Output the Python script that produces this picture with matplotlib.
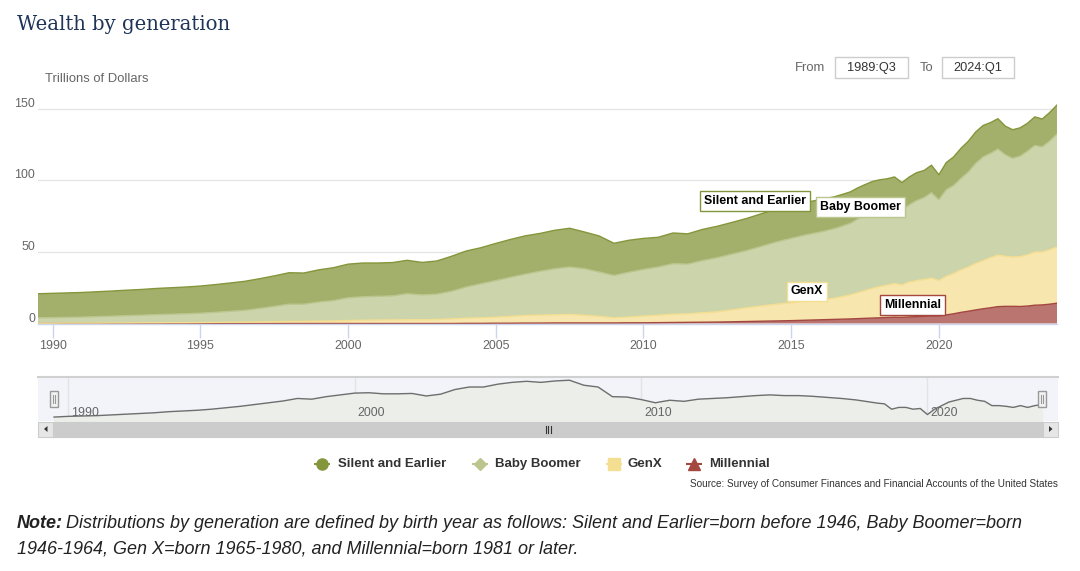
import numpy as np
import matplotlib
matplotlib.use("Agg")
import matplotlib.pyplot as plt
from matplotlib.patches import Rectangle, Polygon
from matplotlib import transforms

# ---------------- data (trillions of dollars) ----------------
quarters = [
    "1989Q3", "1990Q1", "1990Q3", "1991Q1", "1991Q3", "1992Q1", "1992Q3", "1993Q1", "1993Q3",
    "1994Q1", "1994Q3", "1995Q1", "1995Q3", "1996Q1", "1996Q3", "1997Q1", "1997Q3", "1998Q1",
    "1998Q3", "1999Q1", "1999Q3", "2000Q1", "2000Q3", "2001Q1", "2001Q3", "2002Q1", "2002Q3",
    "2003Q1", "2003Q3", "2004Q1", "2004Q3", "2005Q1", "2005Q3", "2006Q1", "2006Q3", "2007Q1",
    "2007Q3", "2008Q1", "2008Q3", "2009Q1", "2009Q3", "2010Q1", "2010Q3", "2011Q1", "2011Q3",
    "2012Q1", "2012Q3", "2013Q1", "2013Q3", "2014Q1", "2014Q3", "2015Q1", "2015Q3", "2016Q1",
    "2016Q3",
    "2017Q1", "2017Q2", "2017Q3", "2017Q4", "2018Q1", "2018Q2", "2018Q3", "2018Q4",
    "2019Q1", "2019Q2", "2019Q3", "2019Q4", "2020Q1", "2020Q2", "2020Q3", "2020Q4",
    "2021Q1", "2021Q2", "2021Q3", "2021Q4", "2022Q1", "2022Q2", "2022Q3", "2022Q4",
    "2023Q1", "2023Q2", "2023Q3", "2023Q4", "2024Q1",
]

silent = [
    16.8, 17.0, 17.1, 17.2, 17.4, 17.6, 17.8, 18.0, 18.3,
    18.5, 18.7, 19.0, 19.4, 19.8, 20.3, 20.8, 21.3, 22.0,
    21.8, 22.5, 23.0, 23.5, 23.6, 23.3, 23.3, 23.4, 22.7,
    23.2, 24.5, 25.2, 25.2, 26.0, 26.5, 26.8, 26.5, 26.9,
    27.1, 25.7, 25.2, 22.5, 22.4, 21.7, 20.8, 21.5, 21.2,
    21.8, 22.0, 22.2, 22.5, 22.8, 23.0, 22.8, 22.8, 22.6,
    22.3,
    22.0, 21.8, 21.6, 21.3, 21.0, 20.7, 20.5, 19.0,
    19.5, 19.5, 19.0, 19.2, 17.5, 19.0, 20.0, 21.0,
    21.5, 22.0, 22.0, 21.5, 21.2, 20.0, 20.0, 19.8,
    19.5, 20.0, 19.5, 20.0, 20.3,
]

boomer = [
    3.8, 3.9, 4.0, 4.2, 4.5, 4.7, 5.1, 5.3, 5.7,
    5.9, 6.2, 6.5, 7.0, 7.6, 8.2, 9.4, 10.7, 12.0,
    12.0, 13.3, 14.2, 15.9, 16.4, 16.6, 16.8, 18.2, 17.4,
    17.7, 19.3, 21.8, 23.8, 25.6, 27.3, 28.9, 30.6, 32.2,
    33.2, 32.5, 31.0, 29.6, 31.3, 32.6, 33.7, 35.3, 34.7,
    36.5, 37.8, 39.0, 40.0, 41.7, 43.5, 45.0, 46.5, 47.7,
    48.7,
    50.0, 51.5, 52.5, 53.5, 53.7, 53.7, 54.0, 52.5,
    54.0, 56.0, 57.2, 59.7, 56.5, 60.5, 61.5, 64.0,
    66.5, 70.0, 72.5, 73.0, 74.2, 71.0, 69.0, 70.2,
    72.5, 74.5, 73.5, 76.0, 79.0,
]

genx = [
    0.2, 0.2, 0.3, 0.3, 0.3, 0.4, 0.4, 0.5, 0.5,
    0.6, 0.6, 0.7, 0.8, 0.9, 1.0, 1.1, 1.3, 1.5,
    1.5, 1.7, 1.8, 2.1, 2.3, 2.4, 2.5, 2.6, 2.6,
    2.8, 3.2, 3.6, 3.9, 4.2, 4.8, 5.3, 5.6, 5.7,
    5.9, 5.4, 4.6, 3.6, 4.0, 4.7, 5.2, 5.8, 6.0,
    6.6, 7.2, 8.3, 9.6, 10.7, 11.7, 12.5, 13.2, 13.7,
    14.9,
    16.8, 18.1, 19.4, 20.7, 21.8, 22.6, 23.6, 22.7,
    24.4, 25.2, 25.8, 26.5, 24.7, 27.0, 28.2, 29.7,
    30.9, 32.5, 33.7, 35.0, 36.0, 35.0, 34.5, 34.9,
    35.8, 37.2, 37.0, 38.0, 39.3,
]

millennial = [
    0.0, 0.0, 0.0, 0.0, 0.0, 0.0, 0.0, 0.0, 0.0,
    0.0, 0.0, 0.0, 0.0, 0.0, 0.0, 0.0, 0.0, 0.0,
    0.0, 0.0, 0.0, 0.0, 0.0, 0.0, 0.0, 0.0, 0.0,
    0.0, 0.0, 0.1, 0.1, 0.2, 0.2, 0.3, 0.3, 0.4,
    0.4, 0.4, 0.4, 0.4, 0.5, 0.5, 0.6, 0.7, 0.8,
    0.9, 1.0, 1.2, 1.4, 1.6, 1.8, 2.0, 2.3, 2.6,
    2.9,
    3.2, 3.4, 3.6, 3.8, 4.0, 4.2, 4.4, 4.3,
    4.6, 4.8, 5.0, 5.3, 5.3, 6.0, 6.8, 7.8,
    8.6, 9.5, 10.3, 11.0, 11.8, 12.0, 12.0, 11.9,
    12.2, 12.8, 13.0, 13.5, 14.2,
]

series_names = ["Silent and Earlier", "Baby Boomer", "GenX", "Millennial"]
x_ticks = [1990, 1995, 2000, 2005, 2010, 2015, 2020]
y_ticks = [0, 50, 100, 150]
nav_ticks = [1990, 2000, 2010, 2020]
range_from, range_to = "1989:Q3", "2024:Q1"

for arr in (silent, boomer, genx, millennial):
    assert len(arr) == len(quarters)

x = np.array([int(q[:4]) + (int(q[-1]) - 1) / 4 for q in quarters])

# ---------------- style ----------------
FONT = "Liberation Sans"
plt.rcParams["font.family"] = [FONT, "DejaVu Sans"]
c_line = {"Silent and Earlier": "#84963b", "Baby Boomer": "#bac68e",
          "GenX": "#f4de92", "Millennial": "#a34740"}
c_fill = {"Silent and Earlier": "#a3b06c", "Baby Boomer": "#cbd4aa",
          "GenX": "#f7e6ad", "Millennial": "#ba7570"}

W, H = 1080, 571
fig = plt.figure(figsize=(W / 100, H / 100), dpi=100)
fig.patch.set_facecolor("white")


def frac(l, t, r, b):
    return [l / W, 1 - b / H, (r - l) / W, (b - t) / H]


# ---------------- main chart ----------------
ax = fig.add_axes(frac(38, 94.7, 1057, 323.5))
ax.set_xlim(x[0], x[-1])
ax.set_ylim(0, 160)
for v in y_ticks[1:]:
    ax.axhline(v, color="#e6e6e6", lw=1, zorder=0)

vals = [np.array(millennial), np.array(genx), np.array(boomer), np.array(silent)]
names_bottom_up = ["Millennial", "GenX", "Baby Boomer", "Silent and Earlier"]
ax.stackplot(x, *vals, colors=[c_fill[n] for n in names_bottom_up], lw=0, zorder=1)
cum = np.cumsum(np.vstack(vals), axis=0)
for i, n in enumerate(names_bottom_up):
    ax.plot(x, cum[i], color=c_line[n], lw=1, zorder=2)

for s in ["top", "left", "right"]:
    ax.spines[s].set_visible(False)
ax.spines["bottom"].set_color("#ccd6eb")
ax.spines["bottom"].set_linewidth(1)
ax.set_xticks(x_ticks)
ax.set_xticklabels([str(t) for t in x_ticks])
ax.tick_params(axis="x", direction="out", length=10, width=1, color="#ccd6eb",
               labelcolor="#666666", labelsize=8.9, pad=2)
ax.set_yticks([])
ytrans = transforms.offset_copy(ax.get_yaxis_transform(), fig=fig, x=-3, y=5, units="dots")
for v in y_ticks:
    ax.text(0, v, str(v), transform=ytrans, ha="right", va="center",
            fontsize=8.9, color="#666666")

# series labels
label_pos = {"Silent and Earlier": (2013.76, 85.5), "Baby Boomer": (2017.36, 81.3),
             "GenX": (2015.53, 22.4), "Millennial": (2019.12, 13.0)}
for n in series_names:
    lx, ly = label_pos[n]
    ax.text(lx, ly, n, ha="center", va="center", fontsize=8.9, fontweight="bold",
            color="#000000", zorder=5,
            bbox=dict(boxstyle="square,pad=0.32", fc="white", ec=c_line[n], lw=1))

# ---------------- navigator ----------------
nav = fig.add_axes(frac(38, 377, 1058, 421))
nav.set_facecolor("#f2f4f9")
nav.set_xlim(1988.94, 2024.56)
nav.set_ylim(15.7, 28.0)
navlab = transforms.offset_copy(nav.get_xaxis_transform(), fig=fig, x=3, y=0, units="dots")
for t in nav_ticks:
    nav.axvline(t, color="#e3e3e3", lw=1, zorder=0)
    nav.text(t, 0.18, str(t), transform=navlab, fontsize=8.9, color="#666666",
             ha="left", va="center", zorder=3)
nav.fill_between(x, silent, 15.7, color="#eceeea", zorder=1)
nav.plot(x, silent, color="#6e6e6e", lw=1, zorder=2)
nav.set_xticks([])
nav.set_yticks([])
for s in ["left", "right", "bottom"]:
    nav.spines[s].set_visible(False)
nav.spines["top"].set_color("#d0d0d0")
nav.spines["top"].set_linewidth(1.5)

# ---------------- overlay (pixel coordinates) ----------------
ov = fig.add_axes([0, 0, 1, 1])
ov.set_xlim(0, W)
ov.set_ylim(H, 0)
ov.set_axis_off()

# navigator handles at the ends of the data range
for xv in (x[0], x[-1]):
    hx = nav.transData.transform((xv, 20))[0] * W / fig.bbox.width
    ov.add_patch(Rectangle((hx - 4, 391), 8, 16, fc="#f2f2f2", ec="#999999", lw=1, zorder=5))
    ov.plot([hx - 1.2, hx - 1.2], [395, 403], color="#999999", lw=0.8, zorder=6)
    ov.plot([hx + 1.2, hx + 1.2], [395, 403], color="#999999", lw=0.8, zorder=6)

# scrollbar
ov.add_patch(Rectangle((38, 421.5), 1020, 15.5, fc="#f2f2f2", ec="none"))
ov.add_patch(Rectangle((53, 421.5), 990, 15.5, fc="#cccccc", ec="#cccccc", lw=0.8))
for bx in (38, 1043):
    ov.add_patch(Rectangle((bx, 421.5), 15, 15.5, fc="#e6e6e6", ec="#cccccc", lw=0.8))
ov.add_patch(Polygon([(47.5, 426), (47.5, 432), (44, 429)], closed=True, fc="#333333", ec="none"))
ov.add_patch(Polygon([(1049, 426), (1049, 432), (1052.5, 429)], closed=True, fc="#333333", ec="none"))
for gx in (545.5, 548, 550.5):
    ov.plot([gx, gx], [425.5, 432.5], color="#333333", lw=0.8)

# title & axis title
ov.text(17, 25, "Wealth by generation", fontsize=14.1, family="DejaVu Serif",
        color="#1f3458", va="center", ha="left")
ov.text(45, 79, "Trillions of Dollars", fontsize=9.4, color="#666666", va="center", ha="left")

# range selector
ov.text(795, 68, "From", fontsize=9.4, color="#666666", va="center", ha="left")
ov.add_patch(Rectangle((835, 57), 73, 21, fc="white", ec="#cccccc", lw=1))
ov.text(871.5, 68, range_from, fontsize=9.2, color="#333333", va="center", ha="center")
ov.text(920, 68, "To", fontsize=9.4, color="#666666", va="center", ha="left")
ov.add_patch(Rectangle((942, 57), 72, 21, fc="white", ec="#cccccc", lw=1))
ov.text(978, 68, range_to, fontsize=9.2, color="#333333", va="center", ha="center")

# legend
leg_marker = {"Silent and Earlier": ("o", 322, 8), "Baby Boomer": ("D", 480, 6.5),
              "GenX": ("s", 614, 8), "Millennial": ("^", 694, 8)}
leg_text_x = {"Silent and Earlier": 338, "Baby Boomer": 495, "GenX": 628, "Millennial": 709}
ly = 464
for n in series_names:
    m, mx, ms = leg_marker[n]
    ov.plot([mx - 8, mx + 8], [ly, ly], color=c_line[n], lw=1.5, solid_capstyle="butt")
    ov.plot([mx], [ly], marker=m, ms=ms, color=c_line[n], mec=c_line[n])
    ov.text(leg_text_x[n], ly, n, fontsize=9.5, fontweight="bold", color="#333333",
            va="center", ha="left")

ov.text(1058, 484, "Source: Survey of Consumer Finances and Financial Accounts of the United States",
        fontsize=7.2, color="#333333", va="center", ha="right")

# note
NOTE_FS = 13.0
ov.text(17, 523, "Note:", fontsize=NOTE_FS, fontweight="bold", fontstyle="italic",
        color="#222222", va="center", ha="left")
ov.text(66, 523, "Distributions by generation are defined by birth year as follows: "
        "Silent and Earlier=born before 1946, Baby Boomer=born",
        fontsize=NOTE_FS, fontstyle="italic", color="#222222", va="center", ha="left")
ov.text(17, 549, "1946-1964, Gen X=born 1965-1980, and Millennial=born 1981 or later.",
        fontsize=NOTE_FS, fontstyle="italic", color="#222222", va="center", ha="left")

fig.savefig("out.png", dpi=100, facecolor="white")
